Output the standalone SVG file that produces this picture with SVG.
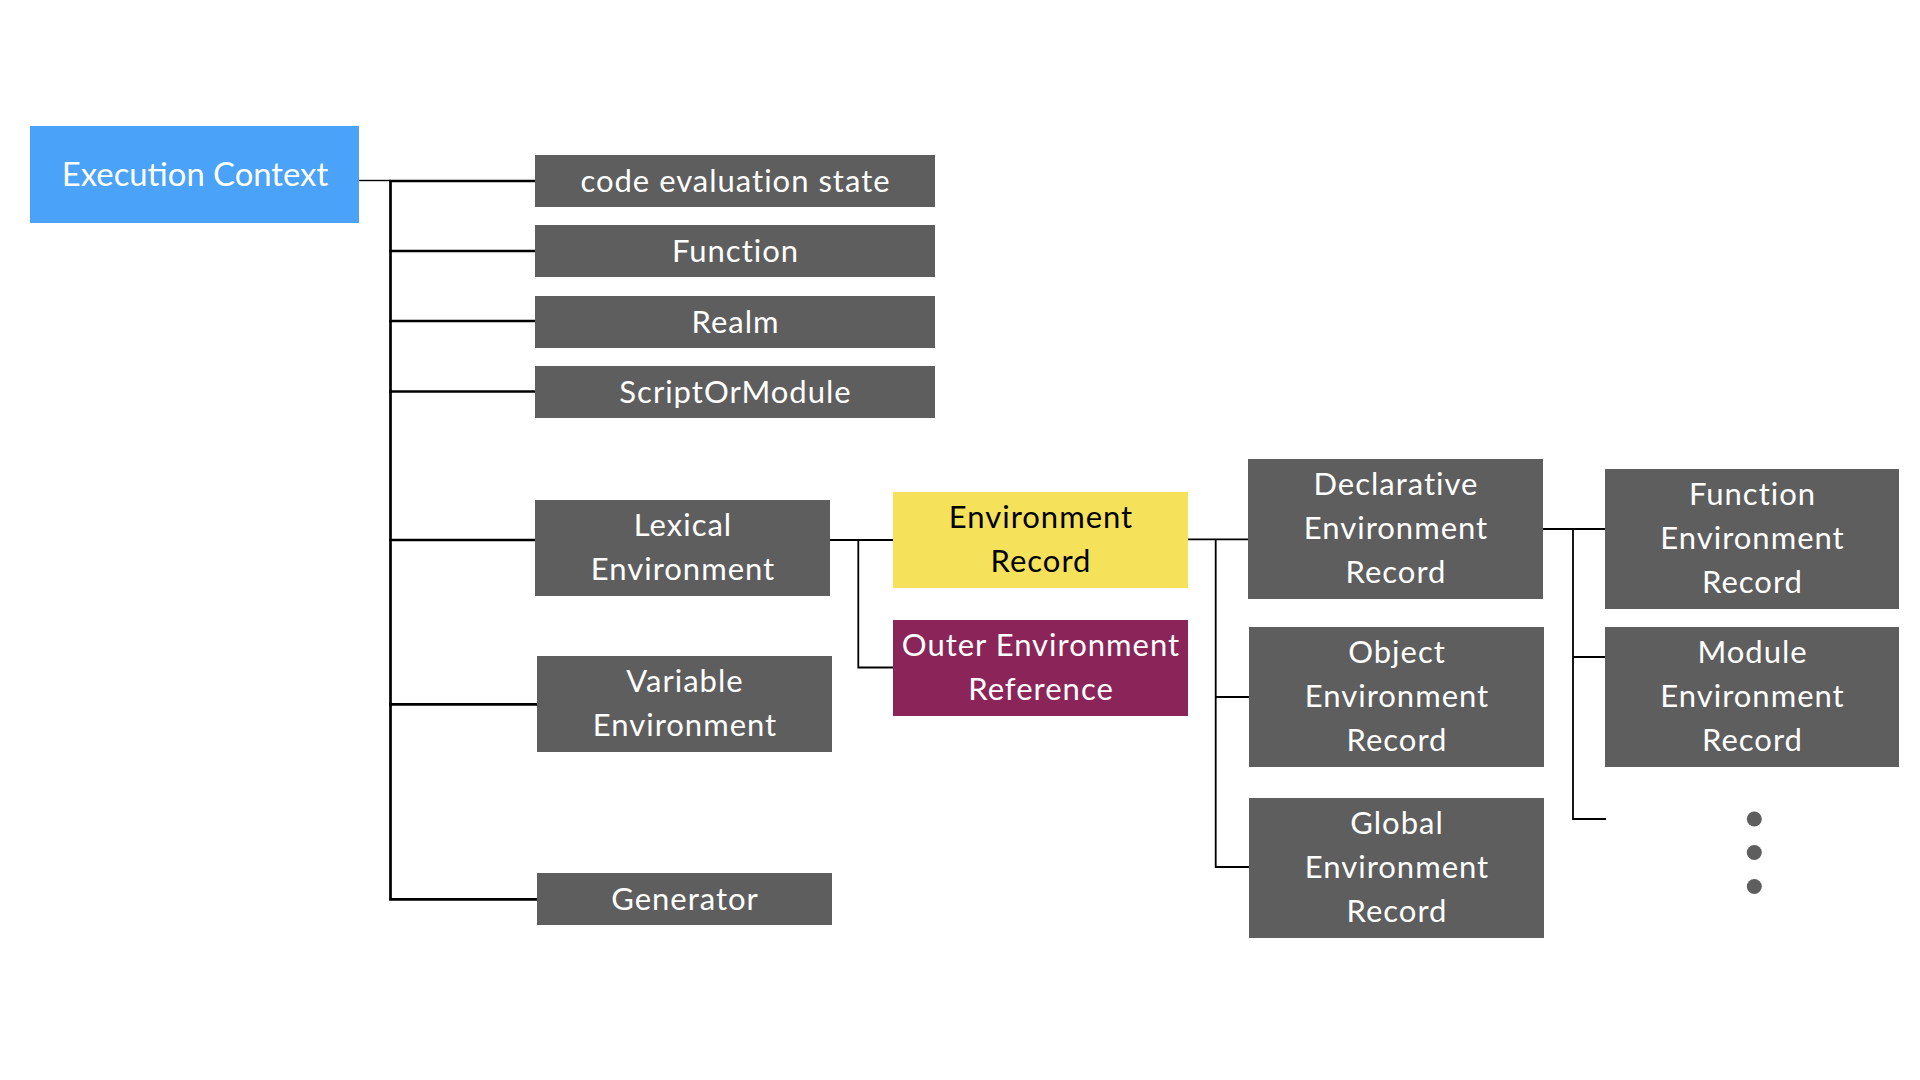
<svg xmlns="http://www.w3.org/2000/svg" width="1920" height="1080" viewBox="0 0 1920 1080">
<style>
.box{fill:#5e5e5e}
.t{font-family:Lato,"Open Sans","Liberation Sans",sans-serif;font-size:31px;letter-spacing:1px;fill:#ffffff;text-anchor:middle}
.dark{fill:#000000}
.trunk{stroke:#000;stroke-width:2.7;fill:none}
.thin{stroke:#000;stroke-width:1.8;fill:none}
.stub{stroke:#000;stroke-width:1.4;fill:none}
</style>
<rect width="1920" height="1080" fill="#ffffff"/>
<g id="connectors">
<path class="stub" d="M359 180.5H391"/>
<path class="trunk" d="M390.5 180V900.5M389 181H535M389 251H535M389 321H535M389 391.5H535M389 540H535M389 704.3H537M389 899.3H537"/>
<path class="thin" d="M830 540H893M858.3 540V667.5H893"/>
<path class="thin" d="M1188 539.3H1248M1215.7 539.3V867H1249M1215.7 697H1249"/>
<path class="thin" d="M1543 529H1605M1573 529V819H1606M1573 657H1605"/>
</g>
<g id="execution-context">
<rect x="30" y="126" width="329" height="97" fill="#4aa2f9"/>
<text class="t" x="195" y="186" style="font-size:32.8px;letter-spacing:0">Execution Context</text>
</g>
<g id="code-evaluation-state">
<rect class="box" x="535" y="155" width="400" height="52"/>
<text class="t" x="735.5" y="191.5">code evaluation state</text>
</g>
<g id="function">
<rect class="box" x="535" y="225" width="400" height="52"/>
<text class="t" x="735.5" y="261.5">Function</text>
</g>
<g id="realm">
<rect class="box" x="535" y="296" width="400" height="52"/>
<text class="t" x="735.5" y="332.5">Realm</text>
</g>
<g id="script-or-module">
<rect class="box" x="535" y="366" width="400" height="52"/>
<text class="t" x="735.5" y="402.5">ScriptOrModule</text>
</g>
<g id="lexical-environment">
<rect class="box" x="535" y="500" width="295" height="96"/>
<text class="t" x="683" y="536">Lexical</text>
<text class="t" x="683" y="580">Environment</text>
</g>
<g id="variable-environment">
<rect class="box" x="537" y="656" width="295" height="96"/>
<text class="t" x="685" y="692">Variable</text>
<text class="t" x="685" y="736">Environment</text>
</g>
<g id="generator">
<rect class="box" x="537" y="873" width="295" height="52"/>
<text class="t" x="685" y="909.5">Generator</text>
</g>
<g id="environment-record">
<rect x="893" y="492" width="295" height="96" fill="#f5e25a"/>
<text class="t dark" x="1041" y="528">Environment</text>
<text class="t dark" x="1041" y="572">Record</text>
</g>
<g id="outer-environment-reference">
<rect x="893" y="620" width="295" height="96" fill="#8b2559"/>
<text class="t" x="1041" y="656">Outer Environment</text>
<text class="t" x="1041" y="700">Reference</text>
</g>
<g id="declarative-environment-record">
<rect class="box" x="1248" y="459" width="295" height="140"/>
<text class="t" x="1396" y="495">Declarative</text>
<text class="t" x="1396" y="539">Environment</text>
<text class="t" x="1396" y="583">Record</text>
</g>
<g id="object-environment-record">
<rect class="box" x="1249" y="627" width="295" height="140"/>
<text class="t" x="1397" y="663">Object</text>
<text class="t" x="1397" y="707">Environment</text>
<text class="t" x="1397" y="751">Record</text>
</g>
<g id="global-environment-record">
<rect class="box" x="1249" y="798" width="295" height="140"/>
<text class="t" x="1397" y="834">Global</text>
<text class="t" x="1397" y="878">Environment</text>
<text class="t" x="1397" y="922">Record</text>
</g>
<g id="function-environment-record">
<rect class="box" x="1605" y="469" width="294" height="140"/>
<text class="t" x="1752.5" y="505">Function</text>
<text class="t" x="1752.5" y="549">Environment</text>
<text class="t" x="1752.5" y="593">Record</text>
</g>
<g id="module-environment-record">
<rect class="box" x="1605" y="627" width="294" height="140"/>
<text class="t" x="1752.5" y="663">Module</text>
<text class="t" x="1752.5" y="707">Environment</text>
<text class="t" x="1752.5" y="751">Record</text>
</g>
<g id="more">
<circle cx="1754.3" cy="819" r="7.5" fill="#5e5e5e"/>
<circle cx="1754.3" cy="852.5" r="7.5" fill="#5e5e5e"/>
<circle cx="1754.3" cy="886.5" r="7.5" fill="#5e5e5e"/>
</g>
</svg>
